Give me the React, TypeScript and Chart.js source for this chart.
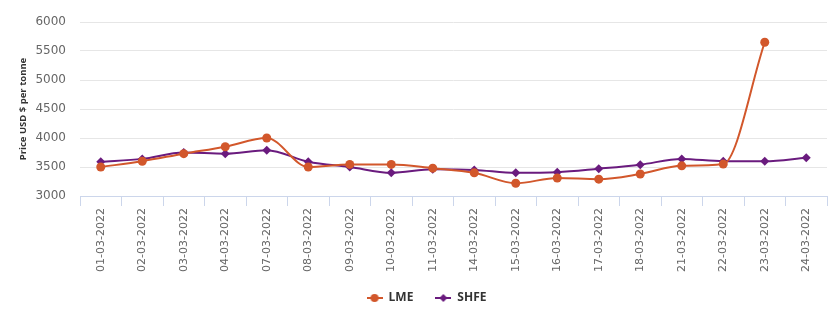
import React, { useEffect, useRef } from "react";
import { Chart, registerables } from "chart.js";

Chart.register(...registerables);

const categories = [
  "01-03-2022", "02-03-2022", "03-03-2022", "04-03-2022", "07-03-2022",
  "08-03-2022", "09-03-2022", "10-03-2022", "11-03-2022", "14-03-2022",
  "15-03-2022", "16-03-2022", "17-03-2022", "18-03-2022", "21-03-2022",
  "22-03-2022", "23-03-2022", "24-03-2022",
];

const lmeValues: (number | null)[] = [
  3500, 3600, 3730, 3850, 4000, 3500, 3545, 3545, 3480, 3400,
  3220, 3310, 3290, 3380, 3520, 3550, 5650, null,
];

const shfeValues: number[] = [
  3590, 3640, 3750, 3730, 3790, 3590, 3500, 3400, 3460, 3450,
  3400, 3410, 3470, 3540, 3640, 3600, 3600, 3660,
];

const yTicks = { min: 3000, max: 6000, step: 500 };

const LME_COLOR = "#d2572b";
const SHFE_COLOR = "#6a1b7e";

// Legend symbol: short line with the series marker in its middle
function legendSymbol(color: string, shape: "circle" | "diamond"): HTMLCanvasElement {
  const c = document.createElement("canvas");
  c.width = 16;
  c.height = 10;
  const ctx = c.getContext("2d")!;
  ctx.strokeStyle = color;
  ctx.lineWidth = 2;
  ctx.beginPath();
  ctx.moveTo(0, 5);
  ctx.lineTo(16, 5);
  ctx.stroke();
  ctx.fillStyle = color;
  ctx.beginPath();
  if (shape === "circle") {
    ctx.arc(8, 5, 4, 0, Math.PI * 2);
  } else {
    ctx.moveTo(8, 1);
    ctx.lineTo(12, 5);
    ctx.lineTo(8, 9);
    ctx.lineTo(4, 5);
    ctx.closePath();
  }
  ctx.fill();
  return c;
}

// Moves the legend row slightly right of centre and up into the free space
const legendNudge = {
  id: "legendNudge",
  afterLayout(chart: Chart) {
    const lg: any = chart.legend;
    if (lg) {
      lg.left += 13;
      lg.right += 13;
      lg.top -= 10;
      lg.bottom -= 10;
    }
  },
};

export default function App() {
  const canvasRef = useRef<HTMLCanvasElement | null>(null);

  useEffect(() => {
    document.body.style.margin = "0";
    const canvas = canvasRef.current;
    if (!canvas) return;

    const chart = new Chart(canvas, {
      type: "line",
      data: {
        labels: categories,
        datasets: [
          {
            label: "LME",
            data: lmeValues,
            borderColor: LME_COLOR,
            backgroundColor: LME_COLOR,
            borderWidth: 2,
            pointStyle: "circle",
            pointRadius: 4.5,
            pointBorderWidth: 0,
            cubicInterpolationMode: "monotone",
            spanGaps: false,
          },
          {
            label: "SHFE",
            data: shfeValues,
            borderColor: SHFE_COLOR,
            backgroundColor: SHFE_COLOR,
            borderWidth: 2,
            pointStyle: "rectRot",
            pointRadius: 4.5,
            pointBorderWidth: 0,
            cubicInterpolationMode: "monotone",
          },
        ],
      },
      options: {
        animation: false,
        responsive: false,
        maintainAspectRatio: false,
        layout: { padding: { top: 22, right: 6, bottom: 0, left: 0 } },
        plugins: {
          tooltip: { enabled: false },
          legend: {
            position: "bottom",
            maxHeight: 36,
            labels: {
              usePointStyle: true,
              pointStyleWidth: 16,
              padding: 22,
              color: "#333333",
              font: { family: "'Open Sans', sans-serif", size: 12, weight: "bold" },
              generateLabels: (ch) =>
                ch.data.datasets.map((ds, i) => ({
                  text: ds.label as string,
                  pointStyle: legendSymbol(
                    i === 0 ? LME_COLOR : SHFE_COLOR,
                    i === 0 ? "circle" : "diamond"
                  ),
                  fillStyle: ds.backgroundColor as string,
                  strokeStyle: ds.borderColor as string,
                  lineWidth: 0,
                  hidden: false,
                  datasetIndex: i,
                  fontColor: "#333333",
                })),
            },
          },
        },
        scales: {
          x: {
            type: "category",
            offset: true,
            grid: {
              offset: true,
              drawOnChartArea: false,
              drawTicks: true,
              tickLength: 10,
              color: "#ccd6eb",
            },
            border: { display: true, color: "#ccd6eb", width: 1 },
            ticks: {
              autoSkip: false,
              minRotation: 90,
              maxRotation: 90,
              padding: 2,
              color: "#666666",
              font: { family: "'DejaVu Sans', sans-serif", size: 11 },
            },
            afterFit: (scale) => {
              scale.height = 84;
            },
          },
          y: {
            min: yTicks.min,
            max: yTicks.max,
            grid: { color: "#e6e6e6", drawTicks: false, lineWidth: 1 },
            border: { display: false },
            ticks: {
              stepSize: yTicks.step,
              padding: 14,
              color: "#666666",
              font: { family: "'DejaVu Sans', sans-serif", size: 12 },
              callback: (v) => String(v),
            },
            title: {
              display: true,
              text: "Price USD $ per tonne",
              color: "#333333",
              padding: { top: 18, bottom: 0 },
              font: { family: "'Open Sans', sans-serif", size: 9.5, weight: "bold" },
            },
            afterFit: (scale) => {
              scale.width = 80;
            },
          },
        },
      },
      plugins: [legendNudge],
    });

    return () => chart.destroy();
  }, []);

  return (
    <div style={{ width: 833, height: 316 }}>
      <canvas ref={canvasRef} width={833} height={316} style={{ display: "block" }} />
    </div>
  );
}
